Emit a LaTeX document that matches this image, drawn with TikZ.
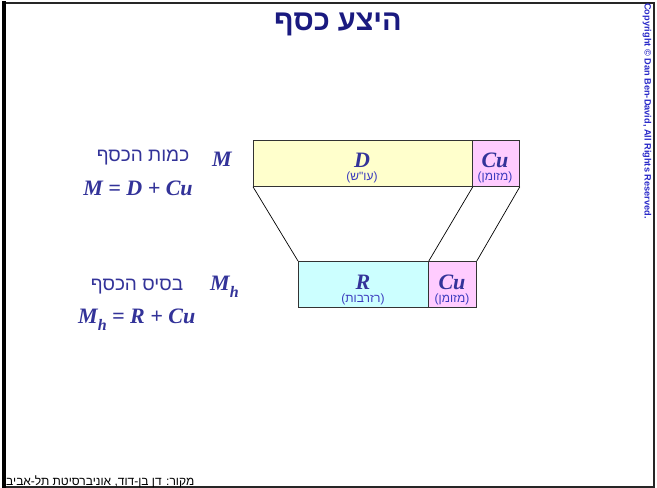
\documentclass[tikz,border=0pt]{standalone}
\usepackage{fontspec}
\TeXXeTstate=1
\newfontfamily\heb[Script=Hebrew]{Liberation Sans}
\newfontfamily\tnr{Liberation Serif}
\newfontfamily\arl{Liberation Sans}
\definecolor{navy}{RGB}{26,26,128}
\definecolor{ink}{RGB}{51,51,153}
\definecolor{lbl}{RGB}{60,60,190}
\definecolor{cpy}{RGB}{40,40,200}
\definecolor{yel}{RGB}{255,255,204}
\definecolor{pnk}{RGB}{255,204,255}
\definecolor{cyn}{RGB}{204,255,255}
\newcommand{\mysub}[1]{\raisebox{-0.33em}{\fontsize{16}{16}\selectfont #1}}
\begin{document}
\begin{tikzpicture}[x=1pt,y=-1pt,
  box/.style={draw=black!80, line width=0.8pt, anchor=north west, inner sep=0pt},
  big/.style={text=ink, font=\tnr\bfseries\itshape\fontsize{22}{22}\selectfont, inner sep=0pt},
  small/.style={text=lbl, font=\heb\fontsize{12}{12}\selectfont, inner sep=0pt},
  hlabel/.style={text=ink, font=\heb\fontsize{19}{19}\selectfont, inner sep=0pt},
  conn/.style={draw=black, line width=0.7pt}]
\useasboundingbox (0,0) rectangle (657,488);
\fill[white] (0,0) rectangle (657,488);
% frame
\draw[line width=2pt, black!85] (3,3) -- (654,3) -- (654,487) -- (3,487);
\draw[line width=4.5pt, black] (4,1) -- (4,488);
% title
\node[text=navy, font=\heb\bfseries\fontsize{29}{29}\selectfont, inner sep=0pt] (title) at (338,24) {\beginR היצע כסף\endR};
% copyright
\node[rotate=-90, text=cpy, font=\arl\bfseries\fontsize{9.2}{9.2}\selectfont, inner sep=0pt] (copy) at (647,111) {Copyright © Dan Ben-David, All Rights Reserved.};
% boxes
\node[box, fill=yel, minimum width=219pt, minimum height=46pt] (D) at (253,140) {};
\node[box, fill=pnk, minimum width=47pt, minimum height=46pt] (C1) at (472,140) {};
\node[box, fill=cyn, minimum width=130pt, minimum height=46pt] (R) at (298,261) {};
\node[box, fill=pnk, minimum width=48pt, minimum height=46pt] (C2) at (428,261) {};
% connectors
\draw[conn] (D.south west) -- (R.north west);
\draw[conn] (D.south east) -- (R.north east);
\draw[conn] (C1.south east) -- (C2.north east);
% box labels
\node[big] (Dl) at (362,160) {D};
\node[small] (Ds) at (362,177.5) {\beginR (עו"ש)\endR};
\node[big] (C1l) at (495,160) {Cu};
\node[small] (C1s) at (495,177.5) {\beginR (מזומן)\endR};
\node[big] (Rl) at (363,282) {R};
\node[small] (Rs) at (363,299) {\beginR (רזרבות)\endR};
\node[big] (C2l) at (452,282) {Cu};
\node[small] (C2s) at (452,299) {\beginR (מזומן)\endR};
% left labels
\node[hlabel] (h1) at (143,157) {\beginR כמות הכסף\endR};
\node[big] (M) at (222,159) {M};
\node[big] (eq1) at (138,188) {M = D + Cu};
\node[hlabel] (h2) at (137,287) {\beginR בסיס הכסף\endR};
\node[big, anchor=west] (Mh) at (210,287) {M\mysub{h}};
\node[big, anchor=west] (eq2) at (78,320) {M\mysub{h} = R + Cu};
% footer
\node[text=black, font=\heb\fontsize{12}{12}\selectfont, inner sep=0pt, anchor=west] (foot) at (6,482) {\beginR מקור: דן בן-דוד, אוניברסיטת תל-אביב\endR};
\end{tikzpicture}
\end{document}
